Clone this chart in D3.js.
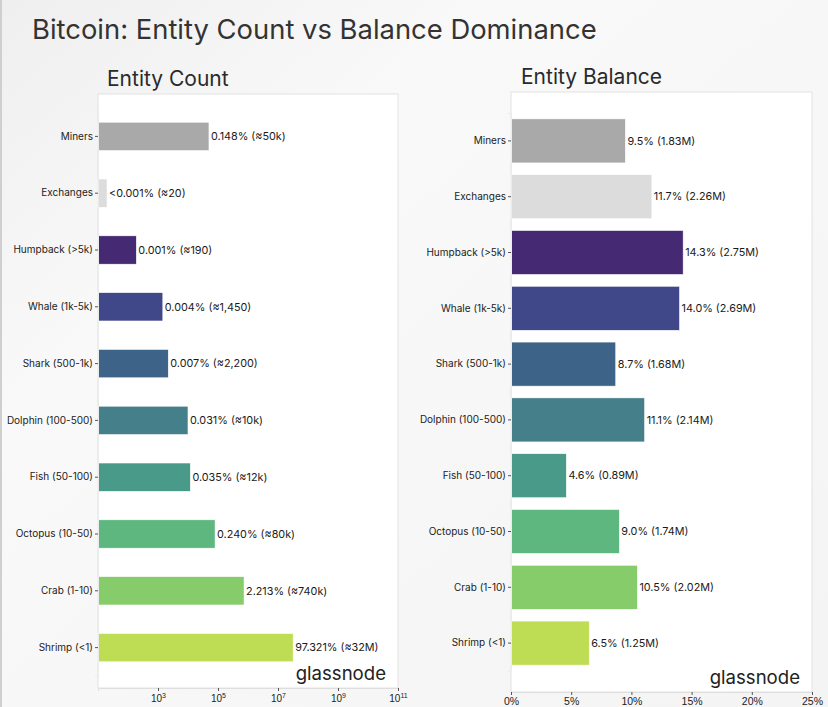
<!DOCTYPE html>
<html>
<head>
<meta charset="utf-8">
<script src="https://cdn.jsdelivr.net/npm/d3@7"></script>
<style>
  body { margin: 0; }
  svg { display: block; font-family: Inter, "Noto Sans", sans-serif; }
</style>
</head>
<body>
<svg width="828" height="707"></svg>
<script>
// Data
const entities = ["Miners", "Exchanges", "Humpback (>5k)", "Whale (1k-5k)", "Shark (500-1k)",
  "Dolphin (100-500)", "Fish (50-100)", "Octopus (10-50)", "Crab (1-10)", "Shrimp (<1)"];
const counts = [50000, 20, 190, 1450, 2200, 10000, 12000, 80000, 740000, 32000000];
const countLabels = ["0.148% (≈50k)", "<0.001% (≈20)", "0.001% (≈190)", "0.004% (≈1,450)", "0.007% (≈2,200)",
  "0.031% (≈10k)", "0.035% (≈12k)", "0.240% (≈80k)", "2.213% (≈740k)", "97.321% (≈32M)"];
const balancePct = [9.5, 11.7, 14.3, 14.0, 8.7, 11.1, 4.6, 9.0, 10.5, 6.5];
const balanceLabels = ["9.5% (1.83M)", "11.7% (2.26M)", "14.3% (2.75M)", "14.0% (2.69M)", "8.7% (1.68M)",
  "11.1% (2.14M)", "4.6% (0.89M)", "9.0% (1.74M)", "10.5% (2.02M)", "6.5% (1.25M)"];
const colors = ["#a9a9a9", "#dcdcdc", "#452a73", "#41488a", "#3e6388",
  "#457f89", "#4a9a8a", "#5db77f", "#87cc6b", "#bfdc55"];
const logTicks = [3, 5, 7, 9, 11];
const pctTicks = [0, 5, 10, 15, 20, 25];

const svg = d3.select("svg");

// background
const defs = svg.append("defs");
const grad = defs.append("linearGradient").attr("id", "bg")
    .attr("x1", "0").attr("y1", "0").attr("x2", "1").attr("y2", "1");
grad.append("stop").attr("offset", "0").attr("stop-color", "#efefef");
grad.append("stop").attr("offset", "0.3").attr("stop-color", "#f9f9f9");
grad.append("stop").attr("offset", "1").attr("stop-color", "#f4f4f4");
svg.append("rect").attr("width", 828).attr("height", 707).attr("fill", "url(#bg)");
svg.append("rect").attr("width", 2).attr("height", 707).attr("fill", "#cfcfcf");

svg.append("text")
    .attr("x", 32).attr("y", 39)
    .attr("font-size", 27.4).attr("fill", "#333")
    .text("Bitcoin: Entity Count vs Balance Dominance");

function panel(opts) {
  const g = svg.append("g");
  const { left, right, top, bottom } = opts;

  g.append("rect")
      .attr("x", left).attr("y", top)
      .attr("width", right - left).attr("height", bottom - top)
      .attr("fill", "#fff").attr("stroke", "#e2e2e2");

  g.append("text")
      .attr("x", opts.titleX).attr("y", top - 8)
      .attr("font-size", 21).attr("fill", "#2a2a2a")
      .text(opts.title);

  const y = d3.scaleBand()
      .domain(entities)
      .range([opts.bandTop, opts.bandBottom])
      .paddingInner(opts.padding)
      .paddingOuter(opts.padding / 2);

  const x = opts.x;

  g.selectAll(".bar")
    .data(entities)
    .join("rect")
      .attr("x", left)
      .attr("y", d => y(d))
      .attr("height", y.bandwidth())
      .attr("width", (d, i) => x(opts.values[i]) - left)
      .attr("fill", (d, i) => colors[i])
      .attr("stroke", "#fff")
      .attr("stroke-width", 0.6);

  g.selectAll(".lbl")
    .data(entities)
    .join("text")
      .attr("x", (d, i) => x(opts.values[i]) + 2)
      .attr("y", d => y(d) + y.bandwidth() / 2)
      .attr("dy", "0.35em")
      .attr("font-size", 10.8).attr("fill", "#1a1a1a")
      .text((d, i) => opts.labels[i]);

  // y axis
  const yAxis = g.append("g")
      .attr("transform", `translate(${left},0)`)
      .call(d3.axisLeft(y).tickSize(3).tickPadding(2));
  yAxis.select(".domain").attr("stroke", "#ececec");
  yAxis.selectAll(".tick line").attr("stroke", "#555");
  yAxis.selectAll(".tick text").attr("font-size", 10).attr("fill", "#222")
      .attr("font-family", "Inter, 'Noto Sans', sans-serif");

  // x axis
  const xAxis = g.append("g")
      .attr("transform", `translate(0,${bottom})`)
      .call(d3.axisBottom(x).tickValues(opts.tickValues).tickSize(3).tickFormat(""));
  xAxis.select(".domain").attr("stroke", "#dedede");
  xAxis.selectAll(".tick line").attr("stroke", "#555");
  opts.tickLabel(xAxis.selectAll(".tick"));

  // watermark
  g.append("text")
      .attr("x", right - 12).attr("y", bottom - 8)
      .attr("text-anchor", "end")
      .attr("font-size", 18.6).attr("fill", "#222")
      .text("glassnode");
}

const xLog = d3.scaleLog().domain([10, 1e11]).range([98, 398]);
panel({
  title: "Entity Count", titleX: 107,
  left: 98, right: 398, top: 94, bottom: 688,
  bandTop: 108, bandBottom: 676, padding: 0.5,
  x: xLog, values: counts, labels: countLabels,
  tickValues: logTicks.map(p => Math.pow(10, p)),
  tickLabel: sel => {
    const t = sel.append("text")
        .attr("y", 14).attr("text-anchor", "middle")
        .attr("font-size", 10).attr("fill", "#222");
    t.append("tspan").text("10");
    t.append("tspan")
        .attr("dy", -4).attr("font-size", 7)
        .text(d => Math.round(Math.log10(d)));
  }
});

const xPct = d3.scaleLinear().domain([0, 25]).range([511, 812]);
panel({
  title: "Entity Balance", titleX: 521,
  left: 511, right: 812, top: 92, bottom: 692,
  bandTop: 113, bandBottom: 671, padding: 0.21,
  x: xPct, values: balancePct, labels: balanceLabels,
  tickValues: pctTicks,
  tickLabel: sel => {
    sel.append("text")
        .attr("y", 13).attr("text-anchor", "middle")
        .attr("font-size", 10.5).attr("fill", "#222")
        .text(d => d + "%");
  }
});
</script>
</body>
</html>
